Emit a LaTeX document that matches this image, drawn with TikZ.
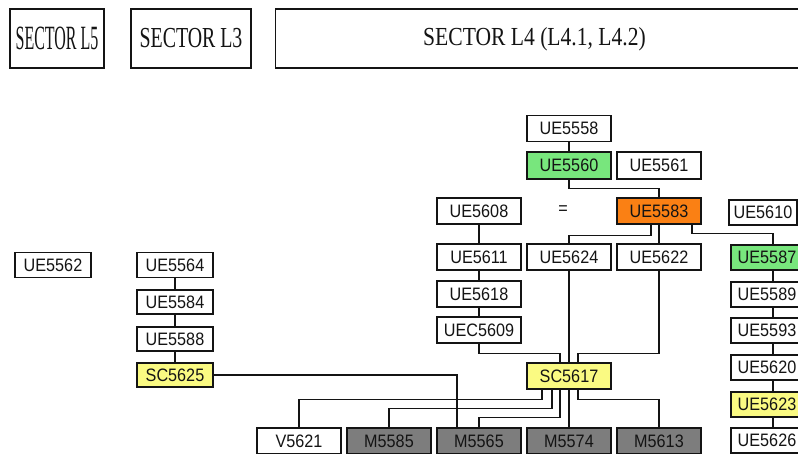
\documentclass[tikz,border=0pt]{standalone}
\usepackage{fontspec}
\setmainfont{Liberation Serif}
\newfontfamily\boxfam[FakeStretch=0.9]{Liberation Sans}
\newfontfamily\hdfive[FakeStretch=0.47]{Liberation Serif}
\newfontfamily\hdthree[FakeStretch=0.685]{Liberation Serif}
\newfontfamily\hdfour[FakeStretch=0.83]{Liberation Serif}
\definecolor{bxgreen}{RGB}{120,230,125}
\definecolor{bxorange}{RGB}{250,128,20}
\definecolor{bxyellow}{RGB}{250,250,130}
\definecolor{bxgray}{RGB}{125,125,125}
\definecolor{ink}{RGB}{20,20,20}
\tikzset{
  box/.style={draw=ink, line width=1.2pt, minimum width=84pt, minimum height=26pt,
    inner sep=0pt, text=ink, font=\boxfam\fontsize{18}{18}\selectfont},
  sbox/.style={box, minimum width=76pt, minimum height=25pt},
  rbox/.style={box, minimum height=25pt, execute at begin node={\hspace*{-12pt}}},
  hdr/.style={draw=ink, line width=1.3pt, inner sep=0pt, minimum height=59pt, text=ink},
  conn/.style={draw=ink, line width=1.2pt},
  grn/.style={fill=bxgreen},
  org/.style={fill=bxorange},
  ylw/.style={fill=bxyellow},
  gry/.style={fill=bxgray}
}
\begin{document}
\begin{tikzpicture}[x=1pt,y=-1pt]
\path[use as bounding box, fill=white] (0,0) rectangle (798,453);
\clip (0,0) rectangle (798,453);

% headers
\node[hdr, minimum width=94pt] (l5) at (57,38.5) {\hdfive\fontsize{34}{34}\selectfont SECTOR L5};
\node[hdr, minimum width=120pt] (l3) at (191,38.5) {\hdthree\fontsize{29}{29}\selectfont SECTOR L3};
\node[hdr, minimum width=560pt, anchor=west] (l4) at (275,38.5) {};
\node[text=ink, inner sep=0pt] (l4t) at (534.5,39) {\hdfour\fontsize{26}{26}\selectfont SECTOR L4 (L4.1, L4.2)};

% top group
\node[box] (ue5558) at (569,128.5) {UE5558};
\node[box,grn, minimum height=27pt] (ue5560) at (569,165.5) {UE5560};
\node[box, minimum height=27pt] (ue5561) at (659,165.5) {UE5561};
\node[box] (ue5608) at (479,211) {UE5608};
\node[inner sep=0pt, text=ink, font=\boxfam\fontsize{18}{18}\selectfont] (eq) at (563,210) {=};
\node[box,org] (ue5583) at (659,211) {UE5583};
\node[box, minimum width=68pt, minimum height=25pt] (ue5610) at (763,212.5) {UE5610};

% row 2
\node[box] (ue5611) at (479,257) {UE5611};
\node[box] (ue5624) at (569,257) {UE5624};
\node[box] (ue5622) at (659,257) {UE5622};
\node[rbox,grn] (ue5587) at (773,257.5) {UE5587};
\node[box] (ue5618) at (479,294) {UE5618};
\node[rbox] (ue5589) at (773,294.5) {UE5589};
\node[box] (uec5609) at (479,330) {UEC5609};
\node[rbox] (ue5593) at (773,330.5) {UE5593};
\node[rbox] (ue5620) at (773,367.5) {UE5620};
\node[box,ylw] (sc5617) at (569,376) {SC5617};
\node[rbox,ylw] (ue5623) at (773,404.5) {UE5623};
\node[rbox] (ue5626) at (773,440.5) {UE5626};

% bottom row
\node[box] (v5621) at (299,441) {V5621};
\node[box,gry] (m5585) at (389,441) {M5585};
\node[box,gry] (m5565) at (479,441) {M5565};
\node[box,gry] (m5574) at (569,441) {M5574};
\node[box,gry] (m5613) at (659,441) {M5613};

% left
\node[sbox] (ue5562) at (53,265) {UE5562};
\node[sbox] (ue5564) at (175,265) {UE5564};
\node[sbox, minimum height=24pt] (ue5584) at (175,302) {UE5584};
\node[sbox, minimum height=24pt] (ue5588) at (175,339) {UE5588};
\node[sbox,ylw, minimum height=24pt] (sc5625) at (175,375) {SC5625};

% connectors
\draw[conn] (ue5558.south) -- (ue5560.north);
\draw[conn] (ue5560.south) -- ++(0,9) -| (ue5583.north);
\draw[conn] ([xshift=-8pt]ue5583.south) -- ++(0,11) -| (ue5624.north);
\draw[conn] (ue5583.south) -- (ue5622.north);
\draw[conn] ([xshift=33pt]ue5583.south) -- ++(0,9) -| (ue5587.north);

\draw[conn] (ue5608.south) -- (ue5611.north);
\draw[conn] (ue5611.south) -- (ue5618.north);
\draw[conn] (ue5618.south) -- (uec5609.north);
\draw[conn] (uec5609.south) |- ([xshift=-9pt,yshift=9pt]sc5617.north) -- ([xshift=-9pt]sc5617.north);
\draw[conn] (ue5624.south) -- (sc5617.north);
\draw[conn] (ue5622.south) |- ([xshift=9pt,yshift=9pt]sc5617.north) -- ([xshift=9pt]sc5617.north);

\draw[conn] (ue5587.south) -- (ue5589.north);
\draw[conn] (ue5589.south) -- (ue5593.north);
\draw[conn] (ue5593.south) -- (ue5620.north);
\draw[conn] (ue5620.south) -- (ue5623.north);
\draw[conn] (ue5623.south) -- (ue5626.north);

\draw[conn] (ue5564.south) -- (ue5584.north);
\draw[conn] (ue5584.south) -- (ue5588.north);
\draw[conn] (ue5588.south) -- (sc5625.north);
\draw[conn] (sc5625.east) -| ([xshift=-22pt]m5565.north);

\draw[conn] ([xshift=-27pt]sc5617.south) |- ([yshift=28pt]v5621.north) -- (v5621.north);
\draw[conn] ([xshift=-17pt]sc5617.south) |- ([yshift=19pt]m5585.north) -- (m5585.north);
\draw[conn] ([xshift=-9pt]sc5617.south) |- ([yshift=10pt]m5565.north) -- (m5565.north);
\draw[conn] (sc5617.south) -- (m5574.north);
\draw[conn] ([xshift=9pt]sc5617.south) |- ([yshift=28pt]m5613.north) -- (m5613.north);
\end{tikzpicture}
\end{document}
